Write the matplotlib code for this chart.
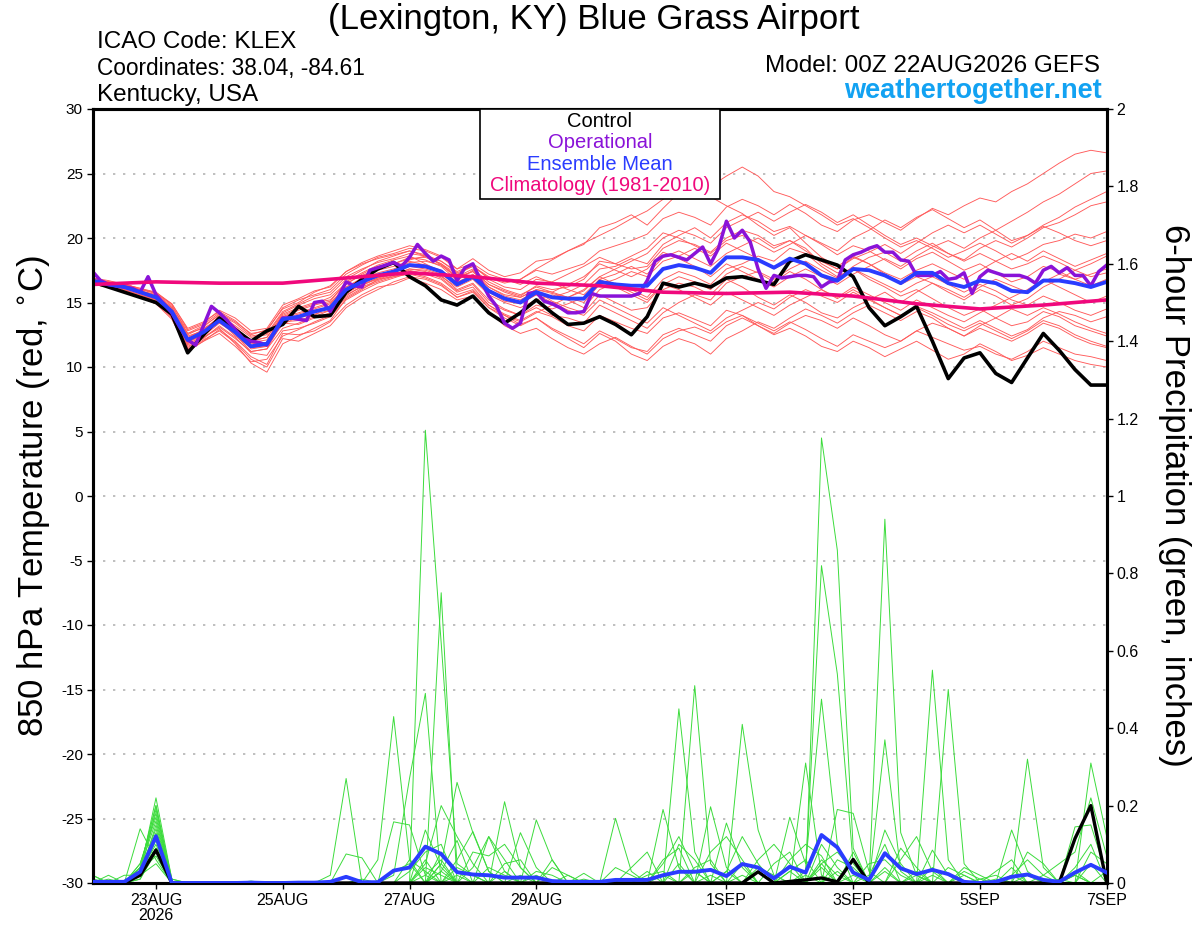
import matplotlib
matplotlib.use('Agg')
import matplotlib.pyplot as plt
from matplotlib.patches import Rectangle

plt.rcParams['font.family'] = ['Liberation Sans', 'DejaVu Sans']
plt.rcParams['axes.unicode_minus'] = False

# ---------------- time bases (hours from 00Z 22AUG2026) ----------------
hours6 = list(range(0, 385, 6))     # ensemble / control, 6-hourly
hours3 = list(range(0, 385, 3))     # operational, 3-hourly
hours24 = list(range(0, 385, 24))   # climatology, daily

tick_hours = [24, 72, 120, 168, 240, 288, 336, 384]
tick_labels = ['23AUG\n2026', '25AUG', '27AUG', '29AUG', '1SEP', '3SEP', '5SEP', '7SEP']
temp_ticks = [-30, -25, -20, -15, -10, -5, 0, 5, 10, 15, 20, 25, 30]
precip_ticks = [0, 0.2, 0.4, 0.6, 0.8, 1, 1.2, 1.4, 1.6, 1.8, 2]
precip_tick_labels = ['0', '0.2', '0.4', '0.6', '0.8', '1', '1.2', '1.4', '1.6', '1.8', '2']

# ---------------- 850 hPa temperature (deg C) ----------------
control_temp = [16.6, 16.2, 15.8, 15.4, 15.0, 14.1, 11.1, 12.5,
                13.8, 12.9, 12.0, 12.8, 13.3, 14.7, 13.9, 14.0,
                15.8, 16.8, 17.6, 18.1, 17.0, 16.3, 15.2, 14.8,
                15.5, 14.2, 13.4, 14.2, 15.2, 14.2, 13.3, 13.4,
                13.9, 13.3, 12.5, 13.9, 16.5, 16.2, 16.5, 16.2,
                16.9, 17.0, 16.7, 16.4, 18.2, 18.7, 18.3, 17.9,
                17.0, 14.6, 13.2, 13.9, 14.7, 12.0, 9.1, 10.7,
                11.1, 9.5, 8.8, 10.7, 12.6, 11.3, 9.8, 8.6,
                8.6]

ens_mean_temp = [16.7, 16.4, 16.2, 15.8, 15.4, 14.3, 12.1, 12.7,
                 13.6, 12.7, 11.6, 11.8, 13.7, 13.9, 14.3, 14.6,
                 16.0, 16.6, 17.1, 17.4, 17.9, 17.8, 17.4, 16.4,
                 17.0, 15.9, 15.3, 15.0, 15.8, 15.4, 15.3, 15.3,
                 16.6, 16.4, 16.3, 16.3, 17.6, 17.9, 17.7, 17.3,
                 18.5, 18.5, 18.3, 17.7, 18.4, 18.0, 17.1, 16.7,
                 17.6, 17.5, 17.1, 16.5, 17.3, 17.3, 16.5, 16.2,
                 16.7, 16.5, 15.9, 15.8, 16.7, 16.7, 16.5, 16.2,
                 16.6]

oper_temp = [17.4, 16.7, 16.4, 16.3, 16.2, 16.1, 15.8, 17.0,
             15.6, 14.9, 14.2, 13.1, 12.1, 11.7, 13.2, 14.7,
             14.2, 13.6, 12.9, 12.2, 12.0, 11.9, 11.7, 12.8,
             13.8, 13.8, 13.7, 13.6, 15.0, 15.1, 14.3, 15.4,
             16.6, 16.3, 16.2, 17.5, 17.7, 17.9, 18.1, 17.8,
             18.5, 19.5, 18.8, 18.2, 18.6, 18.3, 16.7, 17.7,
             18.0, 16.7, 15.5, 14.7, 13.4, 13.0, 13.4, 15.7,
             15.8, 15.1, 14.9, 14.6, 14.2, 14.2, 14.3, 15.7,
             15.5, 15.5, 15.5, 15.5, 15.5, 15.7, 16.7, 18.2,
             18.6, 18.7, 18.5, 18.3, 18.8, 19.3, 18.0, 19.2,
             21.3, 20.0, 20.6, 19.7, 17.6, 16.1, 17.1, 16.9,
             17.0, 17.1, 17.1, 17.0, 16.2, 16.6, 16.7, 18.3,
             18.7, 18.9, 19.2, 19.4, 18.9, 18.9, 18.3, 18.2,
             17.1, 17.1, 17.1, 17.4, 16.8, 16.9, 17.3, 15.7,
             17.0, 17.5, 17.3, 17.1, 17.1, 17.1, 16.9, 16.5,
             17.5, 17.8, 17.3, 17.7, 17.1, 17.1, 16.3, 17.4,
             17.9]

climo_temp = [16.4, 16.6, 16.5, 16.5, 16.9, 17.3, 17.0, 16.5, 16.3,
              15.8, 15.7, 15.8, 15.5, 14.9, 14.5, 14.8, 15.2]

t_mem01 = [16.9, 16.6, 16.5, 16.0, 15.8, 14.8, 12.6, 13.2,
           14.0, 13.2, 12.3, 12.5, 14.2, 14.8, 15.3, 15.6,
           16.8, 17.5, 18.2, 18.6, 19.0, 18.7, 18.2, 17.3,
           17.8, 16.9, 16.5, 16.8, 17.5, 17.2, 17.6, 18.0,
           19.0, 19.4, 19.8, 20.3, 21.5, 22.0, 21.6, 21.0,
           22.4, 23.0, 22.5, 21.8, 22.6, 21.9, 21.0, 20.5,
           21.4, 21.8, 21.2, 20.6, 21.5, 22.3, 21.8, 22.5,
           23.1, 22.8, 23.6, 24.2, 25.0, 25.8, 26.5, 26.8,
           26.6]
t_mem02 = [16.4, 16.2, 15.9, 15.5, 15.0, 13.8, 11.2, 12.0,
           12.9, 12.0, 10.8, 10.2, 12.6, 12.5, 12.8, 13.5,
           14.8, 15.6, 16.2, 16.4, 16.9, 16.5, 16.0, 15.2,
           15.5, 14.3, 13.2, 12.6, 13.0, 12.2, 11.5, 11.0,
           11.8, 12.3, 11.6, 11.0, 12.2, 12.8, 13.1, 12.6,
           13.5, 14.0, 13.2, 12.5, 13.0, 12.4, 11.6, 11.2,
           12.0, 11.5, 10.8, 11.4, 12.0, 11.3, 10.6, 11.0,
           11.8, 11.2, 10.5, 10.9, 11.5, 11.0, 10.5, 10.2,
           10.0]
t_mem03 = [16.8, 16.5, 16.4, 16.1, 15.7, 14.9, 13.0, 13.5,
           14.3, 13.6, 12.5, 12.9, 14.5, 15.0, 15.8, 16.3,
           17.4, 18.1, 18.6, 19.0, 19.4, 19.1, 18.6, 17.6,
           18.4, 17.5, 17.0, 17.3, 18.2, 18.4, 19.0, 19.5,
           20.8, 21.2, 21.8, 21.0, 22.3, 23.5, 24.0, 23.2,
           22.5, 21.9, 21.0, 20.2, 20.8, 19.6, 18.5, 17.8,
           18.6, 18.0, 17.2, 16.4, 17.0, 16.5, 15.8, 15.2,
           16.0, 15.5, 14.8, 15.3, 16.2, 16.8, 17.5, 18.0,
           18.6]
t_mem04 = [16.5, 16.3, 16.0, 15.6, 15.1, 13.9, 11.5, 12.3,
           13.0, 11.8, 10.3, 9.6, 11.8, 12.4, 13.0, 13.6,
           15.3, 16.0, 16.8, 17.2, 17.6, 17.5, 17.1, 16.0,
           16.5, 15.2, 14.5, 14.0, 14.6, 14.0, 13.8, 13.4,
           14.8, 14.2, 13.6, 13.0, 14.2, 15.0, 15.6, 15.2,
           16.5, 17.0, 17.4, 16.8, 17.6, 18.2, 17.5, 16.9,
           17.8, 18.5, 18.9, 18.2, 19.0, 19.6, 18.8, 18.3,
           19.2, 19.8, 19.3, 20.0, 20.8, 21.2, 21.8, 22.5,
           22.8]
t_mem05 = [16.6, 16.4, 16.3, 15.9, 15.6, 14.6, 12.4, 12.8,
           13.9, 13.1, 12.0, 12.3, 14.1, 14.6, 15.0, 15.2,
           16.4, 17.2, 17.8, 18.0, 18.5, 18.3, 17.8, 16.7,
           17.5, 16.4, 15.9, 15.5, 16.3, 16.0, 16.2, 16.8,
           18.2, 18.0, 17.6, 17.8, 19.2, 19.8, 19.5, 18.9,
           20.0, 20.6, 20.2, 19.4, 19.8, 19.2, 18.0, 17.3,
           17.6, 16.8, 16.2, 15.5, 16.0, 15.3, 14.6, 14.0,
           14.5, 13.8, 13.2, 13.5, 14.3, 13.9, 13.2, 12.8,
           12.4]
t_mem06 = [16.7, 16.5, 16.1, 15.7, 15.3, 14.2, 12.0, 12.5,
           13.5, 12.9, 11.9, 12.1, 13.9, 14.2, 14.6, 15.0,
           16.2, 16.8, 17.3, 17.6, 18.1, 18.2, 17.9, 17.0,
           17.4, 16.2, 15.5, 15.2, 15.9, 15.1, 14.6, 14.2,
           15.6, 15.0, 14.4, 14.6, 16.0, 16.5, 16.2, 15.6,
           16.8, 16.2, 15.4, 14.8, 15.6, 15.0, 14.2, 13.8,
           14.6, 15.2, 15.8, 15.0, 15.8, 16.5, 16.0, 15.4,
           16.2, 16.8, 16.3, 15.8, 16.6, 17.2, 16.8, 16.3,
           16.8]
t_mem07 = [16.9, 16.7, 16.4, 15.9, 15.5, 14.4, 12.3, 12.9,
           13.8, 12.5, 11.2, 11.4, 13.5, 13.6, 14.0, 14.8,
           16.0, 16.5, 17.0, 17.5, 18.3, 18.6, 18.2, 17.4,
           17.9, 16.8, 16.2, 16.0, 16.8, 16.6, 17.2, 17.8,
           18.5, 18.0, 18.6, 19.2, 20.4, 20.0, 19.4, 18.8,
           19.8, 20.2, 19.6, 18.9, 19.5, 20.2, 19.6, 19.0,
           20.0, 20.6, 21.4, 20.8, 21.6, 22.2, 21.5, 20.8,
           21.4, 20.6, 19.8, 20.2, 20.9, 20.4, 19.8, 19.4,
           19.8]
t_mem08 = [16.6, 16.3, 16.2, 15.8, 15.3, 14.1, 11.8, 12.4,
           13.4, 12.6, 11.4, 11.6, 13.4, 13.3, 13.8, 14.2,
           15.5, 16.3, 16.9, 17.2, 17.5, 17.2, 16.8, 15.8,
           16.2, 14.8, 14.0, 13.3, 13.8, 12.9, 12.2, 11.5,
           12.6, 12.0, 11.0, 10.5, 11.6, 12.2, 11.8, 11.0,
           12.2, 12.8, 13.5, 13.0, 13.8, 14.5, 14.0, 13.4,
           14.2, 14.8, 14.2, 13.6, 14.3, 13.8, 13.0, 12.4,
           13.0, 12.5, 12.0, 12.6, 13.4, 13.0, 12.3, 11.8,
           11.5]
t_mem09 = [16.5, 16.4, 16.3, 15.9, 15.6, 14.5, 12.6, 13.0,
           13.7, 12.8, 11.8, 11.9, 13.9, 14.4, 14.8, 15.1,
           16.6, 17.3, 17.9, 18.3, 18.6, 18.0, 17.4, 16.5,
           17.2, 16.0, 15.4, 15.0, 15.6, 15.4, 15.8, 16.4,
           17.6, 17.8, 18.4, 18.0, 19.5, 20.2, 20.8, 20.0,
           21.2, 21.8, 21.3, 20.5, 20.9, 20.2, 19.5, 18.7,
           19.4, 19.0, 18.3, 17.6, 18.4, 18.9, 18.2, 17.5,
           18.0, 17.3, 16.6, 17.0, 17.8, 17.4, 16.8, 17.2,
           17.6]
t_mem10 = [16.8, 16.5, 16.2, 15.7, 15.2, 14.0, 11.9, 12.6,
           13.6, 12.4, 11.5, 11.7, 13.3, 13.9, 14.4, 14.5,
           15.8, 16.4, 16.8, 17.0, 17.4, 17.3, 17.0, 16.2,
           16.8, 15.6, 15.0, 14.6, 15.2, 15.6, 15.2, 14.6,
           16.0, 16.5, 16.0, 15.4, 16.8, 17.4, 17.0, 16.4,
           17.6, 18.0, 18.6, 18.2, 19.2, 18.8, 17.8, 17.0,
           17.6, 17.0, 16.4, 15.8, 16.5, 17.0, 16.4, 15.8,
           16.4, 15.9, 15.2, 14.8, 15.5, 15.0, 14.4, 14.0,
           14.5]
t_mem11 = [16.7, 16.4, 16.3, 15.8, 15.4, 14.3, 12.2, 12.9,
           13.9, 13.0, 12.0, 12.3, 14.0, 14.5, 14.9, 15.4,
           16.5, 17.1, 17.6, 18.0, 18.4, 18.5, 18.0, 17.2,
           17.8, 17.0, 16.6, 16.8, 17.6, 18.3, 19.0, 19.6,
           20.2, 20.8, 21.5, 22.1, 23.0, 23.8, 24.6, 24.0,
           24.8, 25.5, 24.8, 23.6, 23.2, 22.5, 21.8, 21.0,
           21.5, 20.8, 20.0, 19.3, 19.8, 19.2, 18.5, 19.0,
           19.6, 19.0, 18.3, 18.8, 19.5, 19.8, 20.3, 20.0,
           20.5]
t_mem12 = [16.4, 16.2, 16.0, 15.6, 15.2, 14.1, 11.6, 12.2,
           13.2, 12.3, 11.1, 10.9, 12.8, 13.0, 13.4, 13.9,
           15.2, 15.9, 16.5, 16.9, 17.3, 17.0, 16.5, 15.6,
           16.0, 14.8, 14.1, 13.6, 14.3, 13.9, 13.2, 12.8,
           14.0, 13.5, 13.0, 12.6, 13.8, 14.2, 13.7, 13.2,
           14.4, 14.0, 13.4, 12.8, 13.5, 12.9, 12.2, 11.6,
           12.5, 12.0, 11.5, 12.0, 12.8, 12.3, 11.8, 11.3,
           11.6, 11.0, 10.6, 11.2, 12.0, 11.5, 11.0, 10.8,
           10.5]
t_mem13 = [16.6, 16.5, 16.2, 15.9, 15.5, 14.6, 12.5, 13.1,
           14.1, 13.4, 12.4, 12.6, 14.3, 14.9, 15.5, 15.8,
           17.0, 17.6, 18.1, 18.4, 18.8, 18.6, 18.0, 17.0,
           17.6, 16.6, 16.0, 15.6, 16.2, 15.8, 16.4, 17.0,
           18.0, 17.5, 17.0, 17.6, 18.9, 18.4, 17.8, 17.0,
           18.0, 17.4, 16.8, 16.2, 17.0, 17.6, 17.0, 16.4,
           17.2, 17.8, 18.4, 17.8, 18.6, 19.3, 19.8, 19.2,
           20.0, 20.6, 21.3, 22.0, 22.8, 23.4, 24.2, 25.0,
           25.2]
t_mem14 = [16.8, 16.4, 16.0, 15.5, 15.1, 13.9, 11.7, 12.3,
           13.1, 12.2, 11.2, 11.4, 13.0, 13.4, 13.9, 14.4,
           15.6, 16.2, 16.7, 17.1, 17.6, 17.4, 16.9, 15.9,
           16.4, 15.0, 14.4, 14.0, 14.8, 14.5, 14.9, 15.4,
           16.8, 16.2, 15.6, 15.0, 16.4, 16.0, 15.4, 14.8,
           15.8, 15.2, 14.6, 14.0, 14.8, 15.4, 16.0, 15.4,
           16.2, 15.6, 15.0, 14.4, 15.2, 14.6, 14.0, 13.5,
           14.2, 14.8, 15.4, 16.0, 16.8, 16.2, 15.6, 15.0,
           15.5]
t_mem15 = [16.7, 16.5, 16.4, 16.0, 15.7, 14.7, 12.8, 13.3,
           14.2, 13.5, 12.6, 12.8, 14.6, 15.2, 15.6, 16.0,
           17.2, 17.9, 18.5, 18.8, 19.2, 19.0, 18.5, 17.6,
           18.0, 17.2, 16.8, 16.4, 17.0, 16.5, 16.0, 15.6,
           16.8, 17.2, 17.8, 17.2, 18.5, 19.0, 18.4, 17.8,
           18.8, 19.4, 20.0, 19.2, 19.8, 19.0, 18.2, 17.6,
           18.4, 18.9, 19.5, 18.8, 19.6, 20.4, 21.0, 20.4,
           21.0, 20.3, 19.6, 20.2, 21.0, 21.6, 22.4, 23.0,
           23.6]
t_mem16 = [16.5, 16.3, 16.1, 15.7, 15.3, 14.2, 11.9, 12.5,
           13.5, 12.6, 11.5, 11.6, 13.6, 13.8, 14.1, 14.4,
           15.7, 16.4, 16.9, 17.3, 17.8, 17.6, 17.2, 16.3,
           16.9, 15.8, 15.1, 14.9, 15.6, 15.0, 14.4, 14.0,
           15.2, 14.6, 14.0, 13.4, 14.6, 14.0, 13.4, 12.8,
           13.8, 14.4, 15.0, 14.5, 15.4, 16.0, 15.5, 15.0,
           15.8, 15.2, 14.6, 14.0, 14.7, 14.2, 13.6, 13.0,
           13.6, 13.0, 12.4, 12.9, 13.8, 14.3, 14.0, 13.5,
           13.9]
t_mem17 = [16.9, 16.6, 16.3, 15.9, 15.4, 14.4, 12.2, 12.7,
           13.7, 12.7, 11.6, 11.9, 13.8, 14.1, 14.5, 14.9,
           16.2, 16.9, 17.5, 17.8, 18.2, 17.9, 17.5, 16.6,
           17.1, 16.2, 15.6, 15.4, 16.0, 15.8, 15.4, 15.0,
           16.4, 16.8, 17.4, 17.0, 18.2, 18.6, 19.2, 18.6,
           19.6, 19.0, 18.4, 17.6, 18.2, 18.8, 18.2, 17.6,
           18.5, 18.0, 17.3, 16.8, 17.5, 18.0, 17.4, 16.8,
           17.5, 18.2, 18.8, 18.2, 19.0, 18.4, 17.8, 18.3,
           18.8]
t_mem18 = [16.6, 16.3, 16.1, 15.8, 15.2, 14.0, 11.4, 12.1,
           12.8, 11.9, 10.6, 10.0, 12.2, 12.0, 12.6, 13.2,
           14.6, 15.4, 16.0, 16.6, 17.0, 16.8, 16.3, 15.4,
           15.8, 14.6, 13.8, 13.2, 13.8, 13.0, 12.4, 11.8,
           12.8, 12.2, 11.5, 11.2, 12.5, 13.0, 12.5, 12.0,
           13.2, 13.8, 13.2, 12.6, 13.4, 14.0, 13.6, 13.0,
           13.8, 13.2, 12.5, 12.0, 12.8, 13.4, 13.0, 12.4,
           13.2, 13.8, 14.5, 14.0, 14.6, 14.1, 13.5, 13.0,
           12.6]
t_mem19 = [16.8, 16.6, 16.4, 16.1, 15.8, 14.9, 12.9, 13.4,
           14.4, 13.8, 12.8, 13.0, 14.8, 15.3, 15.9, 16.2,
           17.4, 18.0, 18.4, 18.7, 19.0, 18.6, 17.9, 16.9,
           17.4, 16.4, 15.8, 15.4, 16.0, 15.7, 15.4, 15.9,
           17.0, 17.6, 18.2, 18.8, 20.0, 20.6, 20.2, 19.6,
           20.8, 21.4, 22.0, 21.3, 22.0, 22.6, 22.0, 21.2,
           21.8, 21.0, 20.2, 19.5, 20.0, 19.4, 18.8, 18.2,
           18.8, 18.2, 17.6, 18.0, 18.6, 18.1, 17.5, 17.0,
           17.3]
t_mem20 = [16.5, 16.2, 15.9, 15.4, 14.9, 13.7, 11.3, 12.0,
           12.6, 11.6, 10.4, 10.6, 12.4, 12.9, 13.5, 14.0,
           15.4, 16.1, 16.6, 17.0, 17.2, 16.9, 16.4, 15.4,
           15.9, 14.6, 14.0, 13.5, 14.2, 14.8, 15.4, 16.0,
           17.0, 16.4, 15.8, 15.2, 16.4, 17.0, 16.6, 16.0,
           17.2, 17.8, 17.3, 16.6, 17.4, 16.8, 16.0, 15.3,
           16.0, 15.3, 14.6, 14.0, 14.6, 14.0, 13.3, 12.8,
           13.4, 12.8, 12.2, 12.8, 13.6, 13.2, 12.5, 12.0,
           11.6]

# ---------------- 6-hour precipitation (inches) ----------------
control_precip = [0, 0, 0, 0.02, 0.085, 0, 0, 0,
                  0, 0, 0, 0, 0, 0, 0, 0,
                  0, 0, 0, 0, 0, 0, 0, 0,
                  0, 0, 0, 0, 0, 0, 0, 0,
                  0, 0, 0, 0, 0, 0, 0, 0,
                  0, 0, 0.029, 0, 0.004, 0.008, 0.013, 0.003,
                  0.061, 0, 0, 0, 0, 0, 0, 0,
                  0, 0, 0, 0, 0, 0, 0.115, 0.2,
                  0]

ens_mean_precip = [0.003, 0.003, 0.003, 0.029, 0.121, 0, 0, 0,
                   0, 0, 0.001, 0, 0, 0.001, 0.001, 0.003,
                   0.016, 0.002, 0.002, 0.032, 0.040, 0.094, 0.075, 0.028,
                   0.022, 0.020, 0.014, 0.014, 0.014, 0.005, 0.003, 0.003,
                   0.003, 0.008, 0.008, 0.008, 0.020, 0.029, 0.029, 0.034,
                   0.018, 0.049, 0.040, 0.012, 0.042, 0.027, 0.124, 0.092,
                   0.027, 0.008, 0.077, 0.038, 0.023, 0.034, 0.023, 0.003,
                   0, 0.003, 0.016, 0.022, 0.008, 0.003, 0.027, 0.047,
                   0.027]

p_mem01 = [.02, 0, 0, .03, .22, .01, 0, 0,
           0, 0, 0, 0, 0, 0, 0, 0,
           0, 0, 0, 0, 0, 1.17, .62, .05,
           .02, 0, 0, 0, 0, 0, 0, 0,
           0, 0, 0, 0, 0, 0, .03, 0,
           0, .05, 0, 0, 0, 0, .06, .02,
           0, 0, 0, 0, 0, 0, 0, .02,
           0, 0, 0, 0, 0, 0, 0, 0,
           0]
p_mem02 = [.01, 0, 0, .02, .19, 0, 0, 0,
           0, 0, 0, 0, 0, 0, 0, 0,
           0, 0, 0, 0, 0, 0, .75, 0,
           .04, .12, .03, 0, 0, 0, 0, 0,
           0, 0, 0, 0, .02, 0, 0, 0,
           .155, .04, 0, 0, 0, 0, 1.15, .86,
           .09, 0, 0, 0, .03, 0, 0, 0,
           0, 0, 0, 0, 0, 0, 0, 0,
           0]
p_mem03 = [0, 0, 0, .14, .06, 0, 0, 0,
           0, 0, 0, 0, 0, 0, 0, 0,
           0, 0, 0, .02, .27, .49, 0, 0,
           0, 0, 0, .13, .04, 0, 0, 0,
           0, 0, 0, .03, 0, .45, .08, 0,
           0, 0, 0, 0, 0, 0, .04, 0,
           0, 0, .94, .13, .02, 0, 0, 0,
           0, 0, .04, 0, 0, 0, 0, 0,
           0]
p_mem04 = [0, .02, 0, .05, .17, 0, 0, 0,
           0, 0, 0, 0, 0, 0, 0, 0,
           0, 0, .06, .43, .06, 0, 0, .02,
           0, 0, 0, 0, 0, .06, 0, 0,
           0, 0, 0, 0, 0, 0, .51, .05,
           0, 0, 0, 0, 0, .03, .82, .54,
           .05, 0, .37, .03, 0, 0, 0, 0,
           0, 0, 0, 0, 0, 0, .02, 0,
           0]
p_mem05 = [0, 0, .02, .02, .15, 0, 0, 0,
           0, 0, 0, 0, 0, 0, 0, .02,
           .27, 0, 0, 0, 0, 0, .05, .26,
           .13, .03, 0, 0, 0, 0, 0, 0,
           0, .167, .03, 0, 0, 0, 0, 0,
           0, .41, .137, .02, 0, 0, 0, 0,
           0, 0, 0, 0, 0, .55, .06, 0,
           0, 0, 0, 0, 0, 0, .03, 0,
           0]
p_mem06 = [.02, 0, 0, .03, .12, 0, 0, 0,
           0, 0, 0, 0, 0, 0, 0, 0,
           .075, .065, 0, .158, .15, .02, 0, 0,
           0, 0, .21, .04, 0, 0, 0, 0,
           0, 0, 0, 0, .19, .04, 0, 0,
           0, 0, 0, 0, 0, .31, .02, 0,
           0, 0, 0, 0, 0, 0, .50, .05,
           0, 0, 0, .32, .04, 0, 0, 0,
           0]
p_mem07 = [0, 0, 0, .01, .09, 0, 0, 0,
           0, 0, 0, 0, 0, 0, 0, 0,
           0, 0, 0, 0, 0, .137, .04, 0,
           0, 0, 0, 0, .163, .06, 0, 0,
           0, 0, 0, 0, 0, 0, 0, .197,
           .04, 0, 0, 0, .17, .05, .475, .10,
           0, 0, 0, 0, 0, .085, .02, 0,
           0, 0, 0, 0, 0, 0, 0, .31,
           .12]
p_mem08 = [0, 0, 0, .04, .20, .01, 0, 0,
           0, 0, 0, 0, 0, 0, 0, 0,
           0, 0, 0, 0, 0, 0, 0, .06,
           .133, .03, 0, 0, 0, 0, 0, .025,
           0, 0, 0, 0, .05, .12, .03, 0,
           0, 0, 0, 0, 0, 0, 0, .19,
           .18, .03, 0, 0, 0, 0, 0, 0,
           0, 0, .137, .03, 0, 0, .145, .15,
           .02]
p_mem09 = [0, 0, 0, .02, .11, 0, 0, 0,
           0, 0, 0, 0, 0, 0, 0, 0,
           0, 0, 0, 0, .03, .08, .10, 0,
           0, .12, .06, 0, 0, 0, 0, 0,
           0, 0, .04, .08, 0, 0, 0, 0,
           0, 0, .06, .10, .05, 0, 0, 0,
           0, 0, .137, .05, 0, 0, 0, 0,
           0, .03, .06, 0, 0, 0, 0, .08,
           .05]
p_mem10 = [0, 0, 0, .01, .08, 0, 0, 0,
           0, 0, 0, 0, 0, 0, 0, 0,
           0, 0, 0, 0, 0, 0, .03, .11,
           0, 0, 0, 0, .03, .02, 0, 0,
           0, 0, 0, 0, 0, .10, .06, 0,
           0, 0, 0, 0, .03, .06, 0, 0,
           .08, 0, 0, .09, .04, 0, 0, .04,
           .02, 0, 0, 0, .02, .05, .08, .22,
           .07]
p_mem11 = [.01, 0, 0, .03, .14, 0, 0, 0,
           0, 0, 0, 0, 0, 0, 0, 0,
           0, 0, 0, 0, 0, .05, .20, .12,
           .05, 0, 0, 0, 0, 0, 0, 0,
           0, 0, 0, 0, 0, 0, 0, .08,
           .12, .06, 0, 0, 0, 0, .10, .04,
           0, .02, .10, 0, 0, .04, 0, 0,
           0, 0, 0, .08, .05, 0, 0, 0,
           0]
p_mem12 = [0, 0, 0, .02, .05, 0, 0, 0,
           0, 0, 0, 0, 0, 0, 0, 0,
           0, 0, 0, 0, .06, .03, 0, 0,
           .08, .07, .10, .04, 0, 0, 0, 0,
           0, 0, 0, 0, .06, .09, 0, 0,
           0, 0, 0, 0, .06, .10, .07, 0,
           0, 0, 0, 0, 0, 0, 0, .03,
           .01, 0, 0, 0, 0, 0, .04, .10,
           0]
p_mem13 = [0, .01, 0, .03, .10, 0, 0, 0,
           0, 0, 0, 0, 0, 0, 0, 0,
           0, 0, 0, 0, 0, 0, .08, .03,
           0, 0, 0, 0, 0, .04, .02, 0,
           0, 0, 0, 0, 0, 0, 0, 0,
           .03, .12, .05, 0, 0, 0, 0, .06,
           .04, 0, 0, .06, .12, .03, 0, 0,
           0, 0, .02, .06, .02, 0, 0, 0,
           0]
p_mem14 = [0, 0, 0, .04, .16, 0, 0, 0,
           0, 0, 0, 0, 0, 0, 0, 0,
           0, 0, 0, 0, 0, .04, .02, 0,
           0, 0, .05, .06, 0, 0, 0, 0,
           0, .04, .02, 0, 0, 0, 0, 0,
           0, 0, 0, .05, .08, 0, 0, 0,
           0, .05, .06, .02, 0, 0, 0, 0,
           .01, .02, 0, 0, 0, 0, 0, .05,
           0]
p_mem15 = [0, 0, 0, .02, .12, 0, 0, 0,
           0, 0, 0, 0, 0, 0, 0, 0,
           0, .01, 0, .03, .05, 0, 0, 0,
           0, 0, 0, 0, .02, 0, 0, .01,
           0, 0, 0, 0, 0, 0, .04, .06,
           0, 0, 0, 0, 0, 0, .05, .08,
           .03, 0, 0, 0, 0, 0, .04, .02,
           0, 0, 0, 0, 0, .01, 0, 0,
           0]
p_mem16 = [0, 0, 0, .03, .07, 0, 0, 0,
           0, 0, 0, 0, 0, 0, 0, 0,
           0, 0, 0, 0, 0, .02, .06, 0,
           0, .04, .02, 0, 0, 0, 0, 0,
           0, 0, 0, .02, .03, 0, 0, 0,
           0, 0, .04, .02, 0, 0, 0, 0,
           0, 0, .04, 0, 0, .02, 0, 0,
           0, 0, 0, 0, 0, 0, .02, 0,
           0]
p_mem17 = [0, 0, 0, .05, .18, 0, 0, 0,
           0, 0, .005, 0, 0, 0, 0, 0,
           0, 0, 0, 0, 0, 0, 0, .04,
           .02, 0, 0, 0, 0, 0, 0, 0,
           0, 0, 0, 0, 0, .05, 0, 0,
           0, .02, 0, 0, 0, 0, 0, .03,
           0, 0, 0, 0, .02, 0, 0, 0,
           0, 0, 0, 0, 0, 0, 0, 0,
           0]
p_mem18 = [0, 0, 0, .02, .13, 0, 0, 0,
           0, 0, 0, 0, 0, 0, 0, 0,
           0, 0, 0, 0, 0, 0, .03, 0,
           0, 0, 0, .02, 0, 0, 0, 0,
           0, 0, 0, 0, 0, 0, 0, 0,
           .03, 0, 0, 0, 0, .02, 0, 0,
           0, 0, .03, 0, 0, 0, 0, 0,
           0, .01, 0, 0, 0, 0, 0, 0,
           0]
p_mem19 = [0, 0, 0, .03, .09, 0, 0, 0,
           0, 0, 0, 0, 0, 0, 0, 0,
           0, 0, 0, 0, 0, .06, 0, 0,
           0, 0, 0, 0, 0, 0, .02, 0,
           0, 0, 0, 0, 0, 0, 0, 0,
           0, 0, 0, 0, .03, 0, .05, 0,
           0, 0, 0, 0, 0, 0, 0, 0,
           0, 0, .02, 0, 0, 0, 0, 0,
           .03]
p_mem20 = [0, 0, 0, .04, .20, 0, 0, 0,
           0, 0, 0, 0, 0, 0, 0, 0,
           0, 0, 0, 0, 0, 0, .05, 0,
           0, 0, .03, 0, 0, 0, 0, 0,
           0, 0, 0, 0, 0, 0, 0, .02,
           0, 0, 0, 0, 0, 0, 0, 0,
           .02, 0, 0, 0, 0, 0, 0, 0,
           0, 0, 0, .02, 0, 0, 0, 0,
           0]

temp_members = [t_mem01, t_mem02, t_mem03, t_mem04, t_mem05, t_mem06, t_mem07,
                t_mem08, t_mem09, t_mem10, t_mem11, t_mem12, t_mem13, t_mem14,
                t_mem15, t_mem16, t_mem17, t_mem18, t_mem19, t_mem20]
precip_members = [p_mem01, p_mem02, p_mem03, p_mem04, p_mem05, p_mem06, p_mem07,
                  p_mem08, p_mem09, p_mem10, p_mem11, p_mem12, p_mem13, p_mem14,
                  p_mem15, p_mem16, p_mem17, p_mem18, p_mem19, p_mem20]

# ---------------- styles ----------------
C_RED = '#ff5a5a'
C_GREEN = '#3cdc3c'
C_CONTROL = '#000000'
C_OPER = '#8a12d8'
C_MEAN = '#2a3cff'
C_CLIMO = '#f0087c'
C_SITE = '#12a2f2'

W, H = 1200, 927
fig = plt.figure(figsize=(12, 9.27), dpi=100)
fig.patch.set_facecolor('white')

def fx(px):
    return px / W

def fy(py):
    return 1 - py / H

ax = fig.add_axes([fx(92.6), fy(883), fx(1106.7) - fx(92.6), fy(109) - fy(883)])
ax2 = ax.twinx()

ax.set_xlim(0, 384)
ax.set_ylim(-30, 30)
ax2.set_ylim(0, 2)

# temperature spaghetti
for m in temp_members:
    ax.plot(hours6, m, color=C_RED, lw=0.65, zorder=2)
ax.plot(hours6, control_temp, color=C_CONTROL, lw=2.6, zorder=4)
ax.plot(hours3, oper_temp, color=C_OPER, lw=2.5, zorder=5)
ax.plot(hours6, ens_mean_temp, color=C_MEAN, lw=2.8, zorder=6)
ax.plot(hours24, climo_temp, color=C_CLIMO, lw=2.6, zorder=7)

# precipitation spaghetti
for m in precip_members:
    ax2.plot(hours6, m, color=C_GREEN, lw=0.7, zorder=2)
ax2.plot(hours6, control_precip, color=C_CONTROL, lw=2.4, zorder=4)
ax2.plot(hours6, ens_mean_precip, color=C_MEAN, lw=2.8, zorder=5)

# grid
ax.set_yticks(temp_ticks)
ax.yaxis.grid(True, color='#b4b4b4', lw=1.2, linestyle=(0, (1.4, 4.6)))
ax.set_axisbelow(True)

ax.set_xticks(tick_hours)
ax.set_xticklabels(tick_labels, fontsize=11.5, linespacing=1.05)
ax.set_yticklabels([str(t) for t in temp_ticks], fontsize=11)
ax2.set_yticks(precip_ticks)
ax2.set_yticklabels(precip_tick_labels, fontsize=11.5)

for a in (ax, ax2):
    a.tick_params(axis='both', direction='out', length=4, width=1, color='black', pad=3)
    for s in a.spines.values():
        s.set_linewidth(2.2)
        s.set_color('black')

# axis titles
fig.text(fx(34), fy(496), '850 hPa Temperature (red, $^{\\circ}$C)', rotation=90,
         ha='center', va='center', fontsize=25)
fig.text(fx(1174), fy(495), '6-hour Precipitation (green, inches)', rotation=-90,
         ha='center', va='center', fontsize=25)

# header texts
fig.text(fx(594), fy(29), '(Lexington, KY) Blue Grass Airport', ha='center',
         va='baseline', fontsize=25)
fig.text(fx(97), fy(48.5), 'ICAO Code: KLEX', ha='left', va='baseline', fontsize=17.5)
fig.text(fx(97), fy(74.5), 'Coordinates: 38.04, -84.61', ha='left', va='baseline', fontsize=16.3)
fig.text(fx(97), fy(101), 'Kentucky, USA', ha='left', va='baseline', fontsize=17.5)
fig.text(fx(1100), fy(71.5), 'Model: 00Z 22AUG2026 GEFS', ha='right', va='baseline', fontsize=17.5)
fig.text(fx(1102), fy(98), 'weathertogether.net', ha='right', va='baseline',
         fontsize=19.5, fontweight='bold', color=C_SITE)

# legend box
box = Rectangle((fx(480), fy(199)), fx(720) - fx(480), fy(109) - fy(199),
                transform=fig.transFigure, facecolor='white', edgecolor='black',
                lw=1.2, zorder=10)
fig.patches.append(box)
legend_items = [('Control', C_CONTROL, 127), ('Operational', C_OPER, 148.3),
                ('Ensemble Mean', C_MEAN, 169.6), ('Climatology (1981-2010)', C_CLIMO, 191)]
for label, col, yb in legend_items:
    fig.text(fx(600), fy(yb), label, ha='center', va='baseline', fontsize=14.5,
             color=col, zorder=11)

fig.savefig('out.png', dpi=100, facecolor='white')
